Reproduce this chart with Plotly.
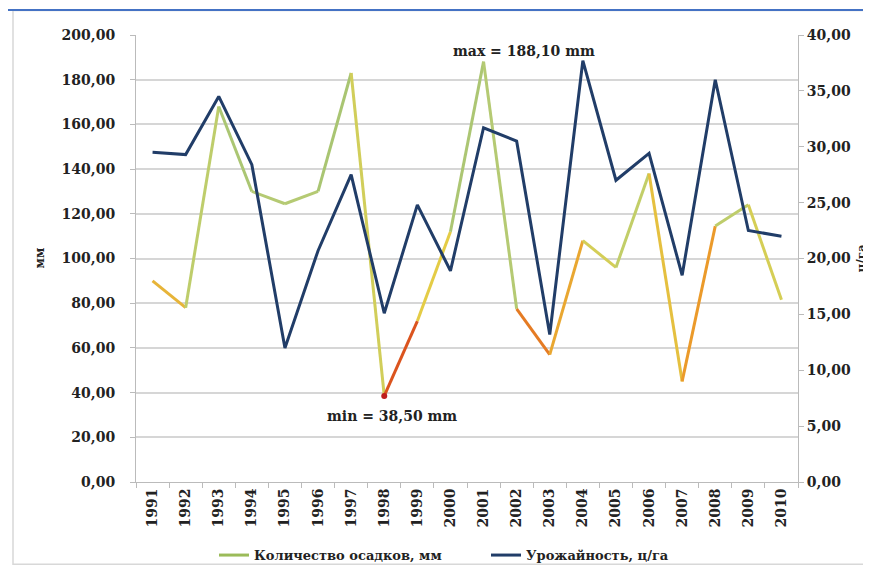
import plotly.graph_objects as go

years = [str(y) for y in range(1991, 2011)]
precip = [90, 78, 168, 130, 124.5, 130, 183, 38.5, 72, 112, 188.1, 77.5, 57, 108, 96, 138, 45, 114.5, 124, 81.5]
yield_ = [29.5, 29.3, 34.5, 28.4, 12.0, 20.7, 27.5, 15.1, 24.8, 18.9, 31.7, 30.5, 13.2, 37.7, 27.0, 29.4, 18.5, 36.0, 22.5, 22.0]
left_ticks = [0, 20, 40, 60, 80, 100, 120, 140, 160, 180, 200]
right_ticks = [0, 5, 10, 15, 20, 25, 30, 35, 40]

name_p = "Количество осадков, мм"
name_y = "Урожайность, ц/га"

stops = [(40, (200, 30, 30)), (55, (222, 90, 30)), (75, (236, 150, 40)),
         (90, (228, 204, 70)), (110, (200, 208, 100)), (130, (178, 202, 118)),
         (180, (160, 192, 110))]

def col(v):
    if v <= stops[0][0]:
        c = stops[0][1]
    elif v >= stops[-1][0]:
        c = stops[-1][1]
    else:
        for (a, ca), (b, cb) in zip(stops, stops[1:]):
            if a <= v <= b:
                t = (v - a) / (b - a)
                c = tuple(int(ca[i] + (cb[i] - ca[i]) * t) for i in range(3))
                break
    return "rgb(%d,%d,%d)" % c

fig = go.Figure()
for i in range(len(years) - 1):
    v = min(precip[i], precip[i + 1]) * 0.55 + max(precip[i], precip[i + 1]) * 0.45
    fig.add_trace(go.Scatter(x=years[i:i + 2], y=precip[i:i + 2], mode="lines",
                             line=dict(color=col(v), width=3), showlegend=False,
                             hoverinfo="skip", yaxis="y"))
imin = precip.index(min(precip))
fig.add_trace(go.Scatter(x=[years[imin]], y=[precip[imin]], mode="markers",
                         marker=dict(color="rgb(190,30,30)", size=6), showlegend=False))
fig.add_trace(go.Scatter(x=[years[0]], y=[None], mode="lines", name=name_p,
                         line=dict(color="#9bbb59", width=3)))
fig.add_trace(go.Scatter(x=years, y=yield_, mode="lines", name=name_y,
                         line=dict(color="#213d68", width=3), yaxis="y2"))

tick_font = dict(family="DejaVu Serif", size=14, color="#222", weight="bold")
title_font = dict(family="DejaVu Serif", size=12, color="#222", weight="bold")
ann_font = dict(family="DejaVu Serif", size=14, color="#222", weight="bold")

def fmt(v):
    return ("%.2f" % v).replace(".", ",")

imax = precip.index(max(precip))
fig.update_layout(
    width=871, height=574,
    margin=dict(l=128, r=81, t=27, b=90),
    paper_bgcolor="white", plot_bgcolor="white",
    showlegend=True,
    legend=dict(orientation="h", x=(206 - 128) / 662, xanchor="left", y=-0.13, yanchor="top",
                font=dict(family="DejaVu Serif", size=13, color="#222", weight="bold"),
                bgcolor="rgba(0,0,0,0)", itemwidth=30, tracegroupgap=0,
                entrywidth=227, entrywidthmode="pixels"),
    xaxis=dict(type="category", categoryorder="array", categoryarray=years,
               range=[-0.5, len(years) - 0.5],
               tickangle=-90, tickfont=tick_font, showgrid=False,
               showline=True, linecolor="#bbbbbb", ticks="outside", tickson="boundaries",
               ticklen=5, tickcolor="#bbbbbb"),
    yaxis=dict(range=[0, 200], tickvals=left_ticks, ticktext=[fmt(v) for v in left_ticks],
               tickfont=tick_font, showgrid=True, gridcolor="#d6d6d6", gridwidth=1.5,
               showline=True, linecolor="#bbbbbb", ticks="outside", ticklen=5,
               tickcolor="#bbbbbb", zeroline=False, ticklabelstandoff=12),
    yaxis2=dict(range=[0, 40], overlaying="y", side="right", tickvals=right_ticks,
                ticktext=[fmt(v) for v in right_ticks], tickfont=tick_font,
                showgrid=False, showline=True, linecolor="#bbbbbb", ticks="outside",
                ticklen=5, tickcolor="#bbbbbb", zeroline=False),
    annotations=[
        dict(x=imax, y=precip[imax], xref="x", yref="y",
             text="max = " + fmt(precip[imax]) + " mm",
             showarrow=False, xshift=40, yshift=11, font=ann_font),
        dict(x=imin, y=precip[imin], xref="x", yref="y",
             text="min = " + fmt(precip[imin]) + " mm",
             showarrow=False, xshift=8, yshift=-20, font=ann_font),
        dict(xref="paper", yref="paper", x=(22 - 128) / 662, y=0.5, text="мм",
             textangle=-90, showarrow=False, font=title_font),
        dict(xref="paper", yref="paper", x=(862 - 128) / 662, y=0.5, text="ц/га",
             textangle=-90, showarrow=False, font=title_font),
    ],
    shapes=[
        dict(type="rect", xref="paper", yref="paper", x0=(5 - 128) / 662, x1=(871 - 128) / 662,
             y0=(484 - 568) / 457, y1=(484 - 2) / 457, line=dict(color="#d8d8d8", width=1.5)),
        dict(type="line", xref="paper", yref="paper", x0=(0 - 128) / 662, x1=(871 - 128) / 662,
             y0=(484 - 1.5) / 457, y1=(484 - 1.5) / 457, line=dict(color="#4472c4", width=2)),
    ],
)

fig.write_html("out.html")
